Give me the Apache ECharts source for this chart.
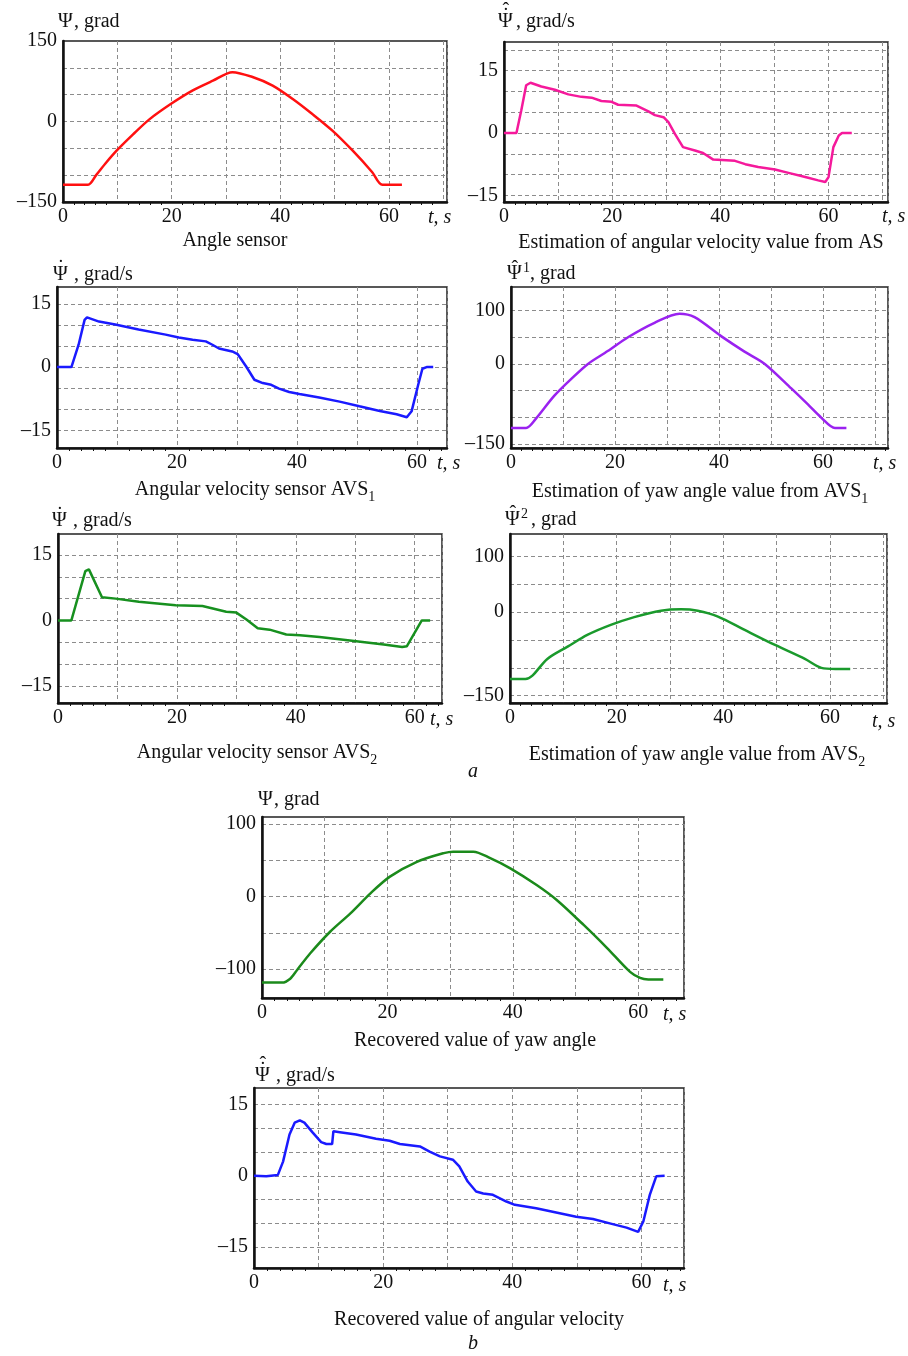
<!DOCTYPE html>
<html lang="en">
<head>
<meta charset="UTF-8">
<title>Yaw angle and angular velocity</title>
<script src="https://cdn.jsdelivr.net/npm/echarts@6/dist/echarts.min.js"></script>
<style>
  html, body { margin: 0; background: #ffffff; }
  #main { width: 908px; height: 1356px; }
</style>
</head>
<body>
<div id="main"></div>
<script>
// --- data (t in s) ---
// a) angle sensor, grad
var tAS = [0, 4.6, 6.1, 8, 10, 12.9, 15.9, 19.9, 23.9, 27.6, 31.2, 34.9, 38.6, 42.3, 45.9, 49.6, 53.3, 56.9, 58.8, 62.4];
var psiAS = [-118, -118, -100, -76, -53, -24, 4, 33, 58, 76, 92, 83, 67, 42, 14, -17, -54, -94, -118, -118];

// estimation of angular velocity from AS, grad/s
var tRateAS = [0, 2.3, 3.2, 4.1, 4.9, 6.9, 9.4, 11.9, 14.3, 16.2, 18, 19.9, 21.1, 24.5, 26.7, 27.9, 29.5, 30.4, 31.6, 33.1, 35.3, 36.8, 38.7, 42.7, 44.6, 47, 50.1, 52.6, 55.7, 58.1, 59.4, 60, 60.9, 61.9, 62.5, 64.3];
var rateAS = [0, 0, 5.5, 11.5, 12.1, 11.2, 10.4, 9.3, 8.7, 8.5, 7.7, 7.5, 6.8, 6.6, 5.2, 4.3, 3.8, 2.6, -0.2, -3.4, -4.2, -4.8, -6.4, -6.7, -7.5, -8.2, -8.8, -9.6, -10.6, -11.4, -11.8, -10.6, -3.4, -0.6, 0, 0];

// angular velocity sensor AVS1, grad/s
var tAVS1 = [0, 2.4, 3.6, 4.6, 5, 7, 9.7, 13.6, 18.1, 20.3, 22.6, 24.8, 25.9, 27, 29.2, 30.1, 31.5, 32.9, 34.3, 35.7, 37, 38.7, 40.4, 43.7, 47.1, 50.4, 53.8, 56.6, 58.3, 59.1, 60.2, 60.9, 61.6, 62.7];
var rateAVS1 = [0, 0, 5.3, 11.2, 11.8, 10.8, 10.1, 8.9, 7.7, 7, 6.5, 6.1, 5.3, 4.4, 3.7, 3.1, 0.2, -3, -3.8, -4.2, -5.1, -5.9, -6.4, -7.2, -8.2, -9.3, -10.4, -11.2, -11.9, -10.5, -4.2, -0.4, 0, 0];

// yaw angle estimated from AVS1, grad
var tYaw1 = [0, 2.9, 4.8, 8.3, 11.6, 14.8, 18.6, 22.5, 27.6, 32.4, 35.3, 40.4, 44.9, 48.8, 53.9, 57.1, 59.7, 62.3, 64.5];
var yaw1 = [-120, -120, -102.5, -60, -28, 0, 24, 50, 77, 94, 87.5, 52, 23, 0, -46, -76, -101, -120, -120];

// angular velocity sensor AVS2, grad/s
var tAVS2 = [0, 2.25, 4.6, 5.2, 7.4, 9.7, 13.6, 19.8, 24.3, 28.3, 30, 31.7, 33.6, 35.6, 38.4, 40.7, 44, 49.1, 54.8, 57.9, 58.7, 61.2, 62.6];
var rateAVS2 = [0, 0, 11.3, 11.7, 5.3, 5, 4.3, 3.5, 3.3, 2, 1.8, 0.2, -1.8, -2.1, -3.2, -3.4, -3.8, -4.6, -5.5, -6.1, -5.9, 0, 0];

// yaw angle estimated from AVS2, grad
var tYaw2 = [0, 2.9, 4.2, 7, 10.8, 14.5, 18.9, 23.3, 28.3, 32.1, 35.2, 39, 44, 49.7, 55.3, 58.4, 61, 63.8];
var yaw2 = [-120, -120, -114, -84, -62, -41, -23, -9, 2.4, 5, 2.4, -8, -32, -59, -84, -100, -102, -102];

// b) recovered yaw angle, grad
var tRecYaw = [0, 3.2, 4.5, 5.6, 7.7, 10.9, 14.1, 17.3, 20.4, 24.7, 29, 30.5, 33.7, 36.4, 39.6, 43.8, 47, 51.3, 55, 58.7, 60.3, 61.6, 64];
var recYaw = [-118.4, -118.4, -113, -101, -78, -48, -23, 4.6, 27.6, 48, 60, 62, 62, 53, 39, 16, -4.6, -39, -70.5, -103.7, -112, -114, -114];

// recovered angular velocity, grad/s
var tRecRate = [0, 1.9, 3.7, 4.5, 5.5, 6.3, 7.1, 7.8, 9.1, 10.4, 11.2, 12.1, 12.3, 13.3, 15.8, 18.9, 21, 22.6, 25.7, 27.2, 28.8, 30.8, 31.8, 33.1, 34.4, 35.5, 37, 39.1, 40.4, 43.7, 46.8, 49.9, 52.5, 55.1, 57.7, 59.5, 60.3, 61.3, 62.3, 63.6];
var recRate = [0, -0.1, 0.2, 3, 8.7, 11.2, 11.7, 11.2, 9.1, 7.1, 6.7, 6.7, 9.4, 9.2, 8.7, 7.8, 7.4, 6.7, 6.2, 5.1, 4.1, 3.4, 2, -1.2, -3.3, -3.7, -4, -5.4, -6.1, -6.8, -7.7, -8.6, -9.1, -10, -10.9, -11.8, -9.6, -4, -0.1, 0];

// tick values
var xLabels = [0, 20, 40, 60];
var rateGrid = [-15, -10, -5, 0, 5, 10, 15, 20];
var rateLabels = [-15, 0, 15];
var angleGrid = [-150, -100, -50, 0, 50, 100, 150];

var SERIF = '"Liberation Serif", "DejaVu Serif", serif';
var INK = '#111111';

function fmt(v) {
    return v < 0 ? '\u2013' + Math.abs(v) : String(v);
}
function zip(t, v) {
    return t.map(function (x, i) { return [x, v[i]]; });
}

// smooth = true for the angle curves
var panels = [
    {box: [63, 41, 384, 161], xMax: 70.7, yMin: -150, yMax: 150, yGrid: angleGrid, yLab: [-150, 0, 150], t: tAS, v: psiAS, color: '#ff1010', smooth: true},
    {box: [504, 42, 384, 160], xMax: 71, yMin: -16.6, yMax: 21.9, yGrid: rateGrid, yLab: rateLabels, t: tRateAS, v: rateAS, color: '#f5199b'},
    {box: [57, 287, 390, 161], xMax: 65, yMin: -19.2, yMax: 19, yGrid: rateGrid, yLab: rateLabels, t: tAVS1, v: rateAVS1, color: '#1a1aff'},
    {box: [511, 287, 377, 161], xMax: 72.5, yMin: -157.5, yMax: 144, yGrid: angleGrid, yLab: [-150, 0, 100], t: tYaw1, v: yaw1, color: '#9a22f0', smooth: true},
    {box: [58, 534, 384, 169], xMax: 64.6, yMin: -18.9, yMax: 19.8, yGrid: rateGrid, yLab: rateLabels, t: tAVS2, v: rateAVS2, color: '#17901f'},
    {box: [510, 534, 377, 169], xMax: 70.7, yMin: -163, yMax: 140, yGrid: angleGrid, yLab: [-150, 0, 100], t: tYaw2, v: yaw2, color: '#1a9a2c', smooth: true},
    {box: [262, 817, 422, 181], xMax: 67.3, yMin: -139.6, yMax: 109.7, yGrid: angleGrid, yLab: [-100, 0, 100], t: tRecYaw, v: recYaw, color: '#1b8a1b', smooth: true},
    {box: [254, 1088, 430, 180], xMax: 66.6, yMin: -19.4, yMax: 18.5, yGrid: rateGrid, yLab: rateLabels, t: tRecRate, v: recRate, color: '#1a1aff'}
];

var grids = [], xAxes = [], yAxes = [], series = [];
panels.forEach(function (p, i) {
    grids.push({
        left: p.box[0], top: p.box[1], width: p.box[2], height: p.box[3],
        show: true, borderColor: '#222', borderWidth: 1.5, backgroundColor: '#fff'
    });
    xAxes.push({
        type: 'value', gridIndex: i, min: 0, max: p.xMax, interval: 10,
        axisLine: {onZero: false, lineStyle: {color: INK, width: 2.5}},
        axisTick: {show: false},
        minorTick: {show: true, splitNumber: 5, length: 3, lineStyle: {color: INK, width: 1}},
        axisLabel: {customValues: xLabels, formatter: fmt, fontFamily: SERIF, fontSize: 20, color: INK, margin: 5},
        splitLine: {show: true, lineStyle: {type: [4, 3], color: '#8c8c8c', width: 1}}
    });
    yAxes.push({
        type: 'value', gridIndex: i, min: p.yMin, max: p.yMax,
        axisLine: {lineStyle: {color: INK, width: 2.5}},
        axisTick: {show: false, customValues: p.yGrid.filter(function (v) { return v > p.yMin && v < p.yMax; })},
        axisLabel: {customValues: p.yLab, formatter: fmt, fontFamily: SERIF, fontSize: 20, color: INK, margin: 6},
        splitLine: {show: true, lineStyle: {type: [4, 3], color: '#8c8c8c', width: 1}}
    });
    series.push({
        type: 'line', xAxisIndex: i, yAxisIndex: i, data: zip(p.t, p.v),
        showSymbol: false, smooth: p.smooth ? 0.3 : false,
        lineStyle: {color: p.color, width: 2.5}
    });
});

function txt(x, y, text, align, extra) {
    var st = {
        text: text, x: 0, y: 0, fill: INK,
        font: '20px ' + SERIF, textAlign: align || 'left', textVerticalAlign: 'middle'
    };
    if (extra) { for (var k in extra) st[k] = extra[k]; }
    return {type: 'text', x: x, y: y, silent: true, style: st};
}
var italic = {font: 'italic 20px ' + SERIF};
var subRich = {rich: {
    n: {fontSize: 20, fontFamily: SERIF, fill: INK, verticalAlign: 'bottom', padding: [0, 0, 5, 0]},
    b: {fontSize: 14, fontFamily: SERIF, fill: INK, verticalAlign: 'bottom'}
}};

// Psi with optional dot / hat / superscript, then the unit text
function psiTitle(x, y, o) {
    var out = [txt(x, y, 'Ψ')];
    if (o.dot) out.push(txt(x + 7.8, y - o.dot, '\u02D9', 'center'));
    if (o.hat) out.push(txt(x + 7.8, y - o.hat, '\u02C6', 'center'));
    if (o.sup) out.push(txt(x + 16, y - 6, o.sup, 'left', {font: '14px ' + SERIF}));
    out.push(txt(o.restX, y, o.rest));
    return out;
}

var graphics = [].concat(
    psiTitle(58, 22, {rest: ', grad', restX: 74}),
    psiTitle(498, 22, {dot: 5.5, hat: 10, rest: ', grad/s', restX: 516}),
    psiTitle(53, 275, {dot: 6, rest: ', grad/s', restX: 74}),
    psiTitle(507, 274, {hat: 4.5, sup: '1', rest: ', grad', restX: 530}),
    psiTitle(52, 521, {dot: 5, rest: ', grad/s', restX: 73}),
    psiTitle(505, 520, {hat: 5.5, sup: '2', rest: ', grad', restX: 531}),
    psiTitle(258, 800, {rest: ', grad', restX: 274}),
    psiTitle(255, 1076, {dot: 5.5, hat: 10, rest: ', grad/s', restX: 276}),
    [
        // time labels
        txt(428, 218, 't, s', 'left', italic),
        txt(882, 217, 't, s', 'left', italic),
        txt(437, 464, 't, s', 'left', italic),
        txt(873, 464, 't, s', 'left', italic),
        txt(430, 720, 't, s', 'left', italic),
        txt(872, 722, 't, s', 'left', italic),
        txt(663, 1015, 't, s', 'left', italic),
        txt(663, 1286, 't, s', 'left', italic),
        // captions
        txt(235, 241, 'Angle sensor', 'center'),
        txt(701, 243, 'Estimation of angular velocity value from AS', 'center'),
        txt(255, 492, '{n|Angular velocity sensor AVS}{b|1}', 'center', subRich),
        txt(700, 494, '{n|Estimation of yaw angle value from AVS}{b|1}', 'center', subRich),
        txt(257, 755, '{n|Angular velocity sensor AVS}{b|2}', 'center', subRich),
        txt(697, 757, '{n|Estimation of yaw angle value from AVS}{b|2}', 'center', subRich),
        txt(473, 772, 'a', 'center', italic),
        txt(475, 1041, 'Recovered value of yaw angle', 'center'),
        txt(479, 1320, 'Recovered value of angular velocity', 'center'),
        txt(473, 1344, 'b', 'center', italic)
    ]
);

var chart = echarts.init(document.getElementById('main'), null, {renderer: 'canvas'});
chart.setOption({
    animation: false,
    backgroundColor: '#ffffff',
    grid: grids,
    xAxis: xAxes,
    yAxis: yAxes,
    series: series,
    graphic: graphics
});
</script>
</body>
</html>
